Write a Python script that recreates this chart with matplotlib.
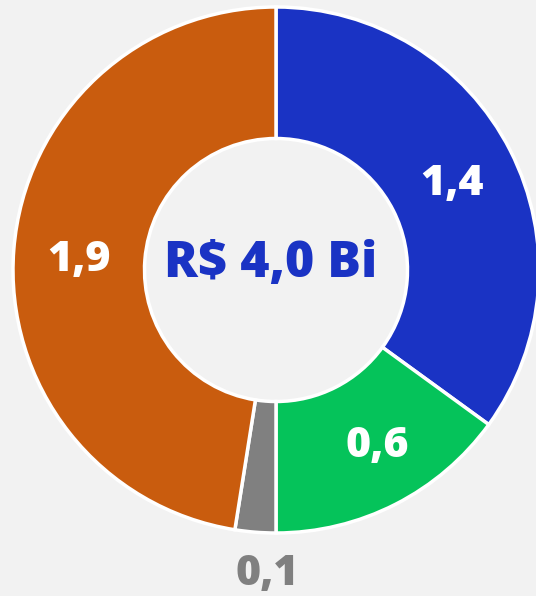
import numpy as np
import matplotlib
matplotlib.use('Agg')
import matplotlib.pyplot as plt

# valores em R$ bilhões
labels = ['1,4', '0,6', '0,1', '1,9']
values = [1.4, 0.6, 0.1, 1.9]
colors = ['#1a33c4', '#05c35a', '#808080', '#c95c0e']
total_label = 'R$ 4,0 Bi'

bg = '#f2f2f2'
fig = plt.figure(figsize=(5.36, 5.96), dpi=100, facecolor=bg)
# pie box in pixels: center (276, 270), radius 263
ax = fig.add_axes([13 / 536, (596 - 533) / 596, 526 / 536, 526 / 596])
ax.set_facecolor(bg)

wedges, _ = ax.pie(values, colors=colors, startangle=90, counterclock=False,
                   radius=1.0, wedgeprops=dict(width=0.5, edgecolor='white', linewidth=2.5))
ax.set_xlim(-1, 1)
ax.set_ylim(-1, 1)
ax.set_aspect('equal')
ax.axis('off')

fnt = ['Open Sans', 'DejaVu Sans']

# rótulos
nudge = {'1,4': (0.0, -0.012), '0,6': (0.045, -0.002), '1,9': (0.0, -0.022)}
for w, lab in zip(wedges, labels):
    ang = np.deg2rad((w.theta1 + w.theta2) / 2)
    if lab == '0,1':
        x, y = -0.035, -1.156
        col = '#808080'
    else:
        dx, dy = nudge.get(lab, (0, 0))
        x, y = 0.75 * np.cos(ang) + dx, 0.75 * np.sin(ang) + dy
        col = 'white'
    ax.text(x, y, lab, ha='center', va='center', fontsize=31, fontweight='heavy',
            color=col, family=fnt, clip_on=False)

ax.text(-0.022, 0.022, total_label, ha='center', va='center', fontsize=36,
        fontweight='heavy', color=colors[0], family=fnt)

fig.savefig('out.png', dpi=100, facecolor=bg)
